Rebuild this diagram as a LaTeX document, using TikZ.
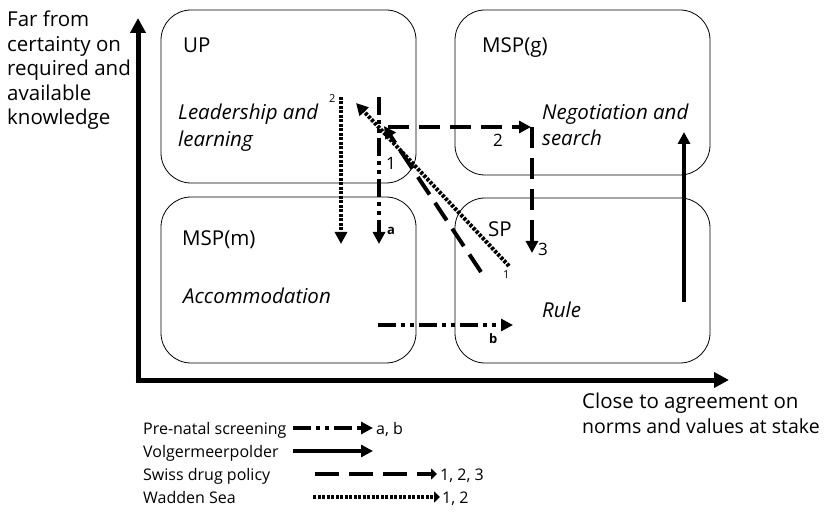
\documentclass[tikz,border=0pt]{standalone}
\usepackage{fontspec}
\setmainfont{Open Sans}
\usetikzlibrary{arrows.meta}
\begin{document}
\begin{tikzpicture}[x=1pt,y=-1pt,
  quad/.style={draw,line width=0.8pt,rounded corners=30pt},
  lbl/.style={anchor=base west,inner sep=0pt,font=\fontsize{20.5}{24}\selectfont},
  ilbl/.style={lbl,font=\fontsize{20.5}{24}\selectfont\itshape},
  tip/.style={-{Triangle[length=12pt,width=12pt]}},
  axis/.style={line width=5pt,-{Triangle[length=15pt,width=15pt]}},
  prenatal/.style={tip,line width=3.5pt,dash pattern=on 18pt off 5pt on 4pt off 5pt on 4pt off 5pt},
  volger/.style={tip,line width=3.5pt},
  swiss/.style={tip,line width=4pt,dash pattern=on 21pt off 10pt},
  wadden/.style={tip,line width=4pt,dash pattern=on 3pt off 1.5pt},
  num/.style={anchor=base west,inner sep=0pt,font=\fontsize{17}{20}\selectfont},
  tiny/.style={anchor=base west,inner sep=0pt,font=\fontsize{11}{13}\selectfont},
  boldsmall/.style={anchor=base west,inner sep=0pt,font=\fontsize{13}{15}\selectfont\bfseries},
  legtext/.style={anchor=base west,inner sep=0pt,font=\fontsize{16}{19}\selectfont}]
\useasboundingbox (0,0) rectangle (828,513);

% quadrants
\draw[quad] (161,10) rectangle (416,183);
\draw[quad] (455,10) rectangle (710,175);
\draw[quad] (161,197) rectangle (416,363);
\draw[quad] (455,198) rectangle (710,363);

% axes
\coordinate (ybase) at (138,382.5);
\coordinate (ytop) at (138,18);
\coordinate (origin) at (135.5,380);
\coordinate (xend) at (729,380);
\draw[axis] (ybase) -- (ytop);
\draw[axis] (origin) -- (xend);

% axis captions
\node[lbl] (yc1) at (7,27) {Far from};
\node[lbl] (yc2) at (7,51.5) {certainty on};
\node[lbl] (yc3) at (7,76) {required and};
\node[lbl] (yc4) at (7,100.5) {available};
\node[lbl] (yc5) at (7,125) {knowledge};
\node[lbl] (xc1) at (582,408) {Close to agreement on};
\node[lbl,font=\fontsize{19.5}{24}\selectfont] (xc2) at (582,433) {norms and values at stake};

% quadrant labels
\node[lbl] (up) at (183,53) {UP};
\node[ilbl] (upt1) at (178,120) {Leadership and};
\node[ilbl] (upt2) at (178,147) {learning};
\node[lbl] (mspg) at (482,53) {MSP(g)};
\node[ilbl] (mspgt1) at (542,120) {Negotiation and};
\node[ilbl] (mspgt2) at (542,146) {search};
\node[lbl] (mspm) at (182,246) {MSP(m)};
\node[ilbl] (mspmt) at (183,304) {Accommodation};
\node[lbl] (sp) at (488,237) {SP};
\node[ilbl] (spt) at (542,317) {Rule};

% path coordinates
\coordinate (pa0) at (379,97);
\coordinate (pa1) at (379,244);
\coordinate (pb0) at (378,325);
\coordinate (pb1) at (513,325);
\coordinate (w10) at (509,266);
\coordinate (w11) at (356,103);
\coordinate (w20) at (341,97);
\coordinate (w21) at (341,244);
\coordinate (s10) at (481,272);
\coordinate (s11) at (384,126);
\coordinate (s20) at (388,127);
\coordinate (s21) at (531,127);
\coordinate (s30) at (532,127);
\coordinate (s31) at (532,253);
\coordinate (v0) at (684,302);
\coordinate (v1) at (684,132);

% pre-natal screening
\draw[prenatal] (pa0) -- (pa1);
\draw[prenatal] (pb0) -- (pb1);
% Wadden Sea
\draw[wadden] (w10) -- (w11);
\draw[wadden] (w20) -- (w21);
% Swiss drug policy
\draw[swiss] (s10) -- (s11);
\draw[swiss] (s20) -- (s21);
\draw[swiss] (s30) -- (s31);
% Volgermeerpolder
\draw[volger] (v0) -- (v1);

% step labels
\node[boldsmall] (la) at (387,235) {a};
\node[boldsmall] (lb) at (489,343) {b};
\node[num] (ls1) at (386,170) {1};
\node[num] (ls2) at (493,147) {2};
\node[num] (ls3) at (538,256) {3};
\node[tiny] (lw1) at (503,279) {1};
\node[tiny] (lw2) at (329,103) {2};

% legend
\node[legtext] (k1) at (143,434) {Pre-natal screening};
\node[legtext] (k2) at (143,457) {Volgermeerpolder};
\node[legtext] (k3) at (143,480) {Swiss drug policy};
\node[legtext] (k4) at (143,503) {Wadden Sea};
\coordinate (k1a) at (293,428); \coordinate (k1b) at (373,428);
\coordinate (k2a) at (293,451); \coordinate (k2b) at (373,451);
\coordinate (k3a) at (315,474); \coordinate (k3b) at (437,474);
\coordinate (k4a) at (313,497); \coordinate (k4b) at (440,497);
\draw[prenatal] (k1a) -- (k1b);
\draw[volger] (k2a) -- (k2b);
\draw[swiss,dash pattern=on 24pt off 10pt,-{Triangle[length=6pt,width=11pt]}] (k3a) -- (k3b);
\draw[wadden,-{Triangle[length=6pt,width=11pt]}] (k4a) -- (k4b);
\node[legtext] (k1t) at (376,434) {a, b};
\node[legtext] (k3t) at (440,480) {1, 2, 3};
\node[legtext] (k4t) at (442,503) {1, 2};
\end{tikzpicture}
\end{document}
